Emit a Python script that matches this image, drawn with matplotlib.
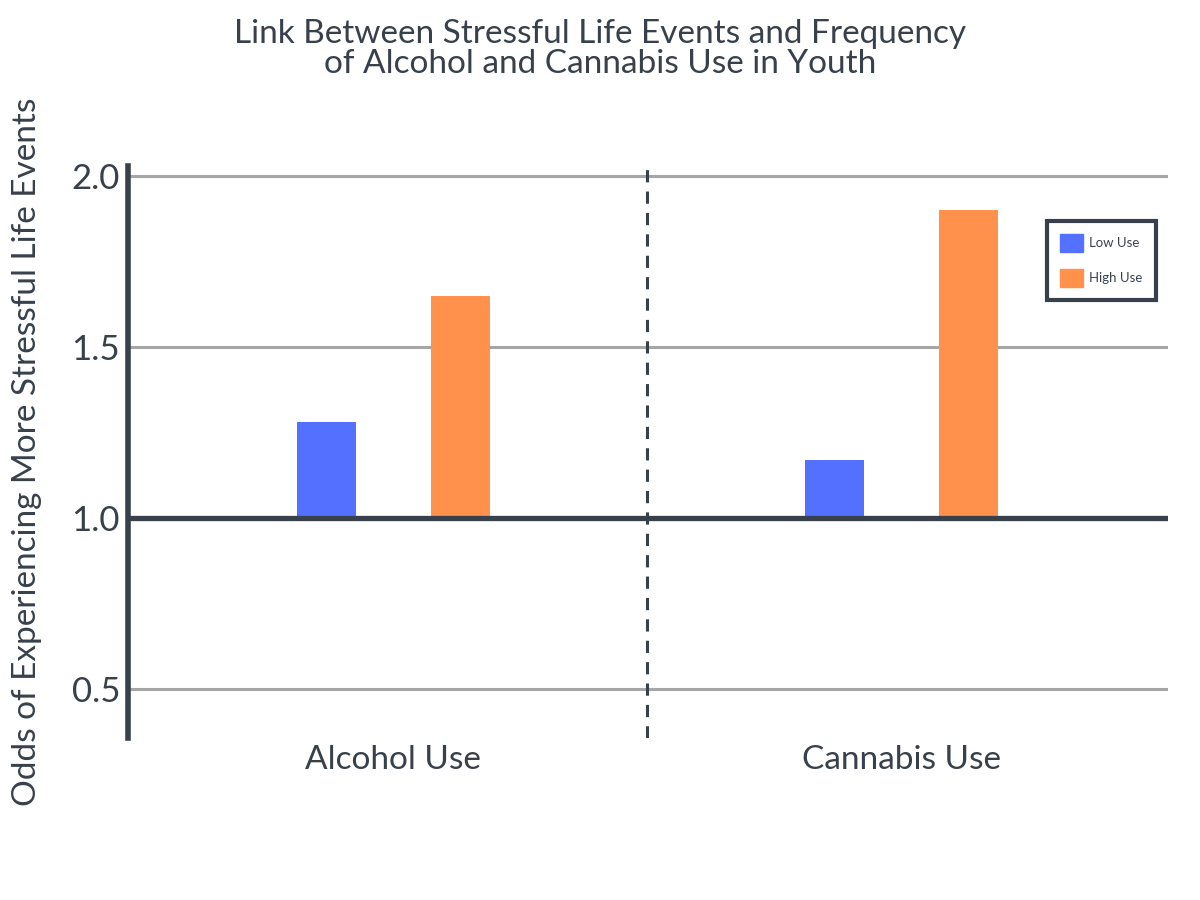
import matplotlib
matplotlib.use("Agg")
from matplotlib import pyplot as plt
from matplotlib.patches import Patch

categories = ["Alcohol Use", "Cannabis Use"]
series_names = ["Low Use", "High Use"]
low_use = [1.28, 1.17]
high_use = [1.65, 1.90]
yticks = [0.5, 1.0, 1.5, 2.0]

dark = "#38414b"
blue = "#5470ff"
orange = "#ff914d"

plt.rcParams["font.family"] = ["Lato", "DejaVu Sans"]

fig = plt.figure(figsize=(12, 9), dpi=100)
ax = fig.add_axes([0.107, 0.18, 0.866, 0.636])

base = 1.0
x = range(len(categories))
w = 0.116
off = 0.132
for i in x:
    ax.bar(i - off, low_use[i] - base, w, bottom=base, color=blue, zorder=3)
    ax.bar(i + off, high_use[i] - base, w, bottom=base, color=orange, zorder=3)

for t in [0.5, 1.5, 2.0]:
    ax.axhline(t, color="#a6a6a6", lw=2.2, zorder=1)
ax.axhline(1.0, color=dark, lw=3.8, zorder=4)
ax.axvline(0.5, color=dark, lw=2.2, ls=(0, (4, 3)), zorder=2)

ax.set_xlim(-0.521, 1.523)
ax.set_ylim(0.357, 2.03)
ax.set_yticks(yticks)
ax.set_yticklabels([f"{t:.1f}" for t in yticks], fontsize=25, color=dark)
ax.set_xticks(list(x))
ax.set_xticklabels(categories, fontsize=24, color=dark)
ax.tick_params(axis="both", length=0, pad=6)
ax.tick_params(axis="x", pad=5)

for s in ["top", "right", "bottom"]:
    ax.spines[s].set_visible(False)
ax.spines["left"].set_color(dark)
ax.spines["left"].set_linewidth(4)

ax.set_ylabel("Odds of Experiencing More Stressful Life Events",
              fontsize=24, color=dark)
ax.yaxis.set_label_coords(-0.083, 0.5)

fig.text(0.5, 0.946, "Link Between Stressful Life Events and Frequency\nof Alcohol and Cannabis Use in Youth",
         ha="center", va="center", fontsize=24, color=dark, linespacing=1.0)

handles = [Patch(color=blue), Patch(color=orange)]
leg = ax.legend(handles, series_names, loc="upper right", bbox_to_anchor=(0.995, 0.915),
                fontsize=9.5, frameon=True, fancybox=False, framealpha=1,
                handlelength=1.7, handleheight=1.7, labelspacing=1.3,
                borderpad=1.0, handletextpad=0.5)
leg.get_frame().set_edgecolor(dark)
leg.get_frame().set_linewidth(3)
for t in leg.get_texts():
    t.set_color(dark)

plt.savefig("out.png", dpi=100)
plt.close()
